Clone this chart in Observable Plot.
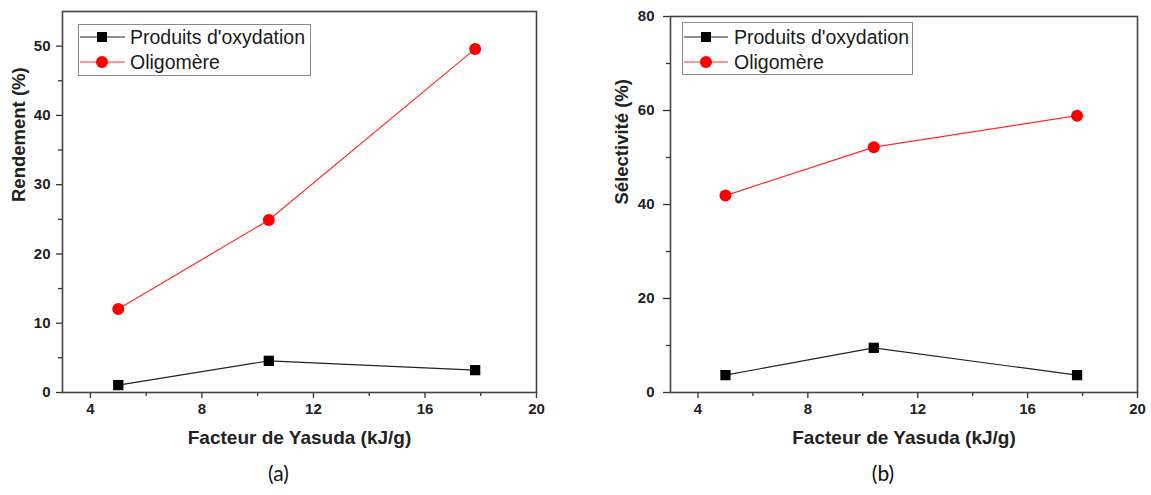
<!DOCTYPE html>
<html><head><meta charset="utf-8">
<script src="https://cdn.jsdelivr.net/npm/d3@7"></script>
<script src="https://cdn.jsdelivr.net/npm/@observablehq/plot@0.6"></script>
<style>
body{margin:0;background:#fff;}
#wrap{position:relative;width:1151px;height:495px;overflow:hidden;background:#fff;}
.panel{position:absolute;top:0;}
#leg{position:absolute;left:0;top:0;pointer-events:none;}
</style></head><body><div id="wrap"></div>
<script>
// ---- data ----
const yasuda = [5.0, 10.4, 17.8];
const seriesNames = ["Produits d'oxydation", "Oligomère"];
const rendementOxy = [1.07, 4.57, 3.23];
const rendementOligo = [12.06, 24.9, 49.6];
const selectOxy = [3.7, 9.5, 3.7];
const selectOligo = [41.9, 52.2, 58.9];
const xTicks = [4, 8, 12, 16, 20];
const xMinor = [6, 10, 14, 18];
const yTicksA = [0, 10, 20, 30, 40, 50];
const yMinorA = [5, 15, 25, 35, 45];
const yTicksB = [0, 20, 40, 60, 80];
const yMinorB = [10, 30, 50, 70];
const panelLabels = ["(a)", "(b)"];
const xLabel = "Facteur de Yasuda (kJ/g)";
const yLabels = ["Rendement (%)", "Sélectivité (%)"];

const FONT = "'Liberation Sans', Arial, sans-serif";
const wrap = document.getElementById("wrap");

function makePanel(c) {
  const rows = s => yasuda.map((x, i) => ({x, y: s[i]}));
  const A = rows(c.oxy), B = rows(c.oligo);
  return Plot.plot({
    width: c.width, height: 495,
    marginLeft: c.ml, marginRight: c.mr, marginTop: c.mt, marginBottom: 103,
    x: {domain: [3, 20]},
    y: {domain: c.yDomain},
    style: {fontFamily: FONT, color: "#222", background: "white", overflow: "visible"},
    marks: [
      Plot.axisX({ticks: xTicks, tickSize: 6, tickFormat: () => "", label: null, stroke: "#333", strokeWidth: 1.3}),
      Plot.axisX({ticks: xMinor, tickSize: 4, tickFormat: () => "", label: null, stroke: "#333", strokeWidth: 1.3}),
      Plot.axisY({ticks: c.yTicks, tickSize: c.tickSize, tickFormat: () => "", label: null, stroke: "#333", strokeWidth: 1.3}),
      Plot.axisY({ticks: c.yMinor, tickSize: 4, tickFormat: () => "", label: null, stroke: "#333", strokeWidth: 1.3}),
      Plot.text(xTicks, {x: d => d, text: d => String(d), frameAnchor: "bottom", dy: 21, fontSize: 15, fontWeight: "bold", fill: "#222"}),
      Plot.text(c.yTicks, {y: d => d, text: d => String(d), frameAnchor: "left", dx: c.yTickDx, textAnchor: "end", fontSize: 15, fontWeight: "bold", fill: "#222"}),
      Plot.line(B, {x: "x", y: "y", stroke: "#ff2b2b", strokeWidth: 1.2}),
      Plot.line(A, {x: "x", y: "y", stroke: "#222", strokeWidth: 1.1}),
      Plot.dot(B, {x: "x", y: "y", r: 6, fill: "#ff0000", symbol: "circle"}),
      Plot.dot(A, {x: "x", y: "y", r: 5.8, fill: "#000", symbol: "square"}),
      Plot.frame({stroke: "#444", strokeWidth: 1.6}),
      Plot.text([xLabel], {text: d => d, frameAnchor: "bottom", dy: 51, fontSize: 19, fontWeight: "bold", fill: "#222"}),
      Plot.text([c.yLabel], {text: d => d, frameAnchor: "left", dx: c.yLabelDx, rotate: -90, fontSize: 18.5, fontWeight: "bold", fill: "#222"}),
      Plot.text([c.panelLabel], {text: d => d, frameAnchor: "bottom", dy: 88, dx: -21, fontSize: 21, fontFamily: "Lato", fill: "#111"})
    ]
  });
}

const p1 = makePanel({width: 575, ml: 62, mr: 39, mt: 11, yDomain: [0, 55], oxy: rendementOxy, oligo: rendementOligo,
  yTicks: yTicksA, yMinor: yMinorA, yLabel: yLabels[0], yLabelDx: -43, panelLabel: panelLabels[0], tickSize: 6, yTickDx: -12});
const p2 = makePanel({width: 576, ml: 95, mr: 14, mt: 16, yDomain: [0, 80], oxy: selectOxy, oligo: selectOligo,
  yTicks: yTicksB, yMinor: yMinorB, yLabel: yLabels[1], yLabelDx: -48, panelLabel: panelLabels[1], tickSize: 7, yTickDx: -16});
p1.classList.add("panel"); p1.style.left = "0px";
p2.classList.add("panel"); p2.style.left = "575px";
wrap.appendChild(p1); wrap.appendChild(p2);

// ---- legends ----
const leg = d3.select(wrap).append("svg").attr("id", "leg").attr("width", 1151).attr("height", 495);
function drawLegend(b) {
  const g = leg.append("g");
  g.append("rect").attr("x", b.x0 + 0.5).attr("y", b.y0 + 0.5).attr("width", b.x1 - b.x0).attr("height", b.y1 - b.y0)
    .attr("fill", "white").attr("stroke", "#8a8a8a").attr("stroke-width", 1);
  const rowsY = [37, 62];
  const colors = ["#222", "#ff2b2b"];
  seriesNames.forEach((name, i) => {
    const y = rowsY[i];
    g.append("line").attr("x1", b.l0).attr("x2", b.l1).attr("y1", y).attr("y2", y).attr("stroke", colors[i]).attr("stroke-width", 1.2);
    if (i === 0) g.append("rect").attr("x", b.m - 5).attr("y", y - 5).attr("width", 10).attr("height", 10).attr("fill", "#000");
    else g.append("circle").attr("cx", b.m).attr("cy", y).attr("r", 6).attr("fill", "#ff0000");
    g.append("text").attr("x", b.t).attr("y", y).attr("dy", "0.35em").attr("font-family", FONT).attr("font-size", 19.5).attr("fill", "#1a1a1a").text(name);
  });
}
drawLegend({x0: 78, y0: 24, x1: 310, y1: 75, l0: 80, l1: 125, m: 102, t: 130});
drawLegend({x0: 682, y0: 22, x1: 912, y1: 74, l0: 684, l1: 728, m: 706, t: 734});
</script></body></html>
